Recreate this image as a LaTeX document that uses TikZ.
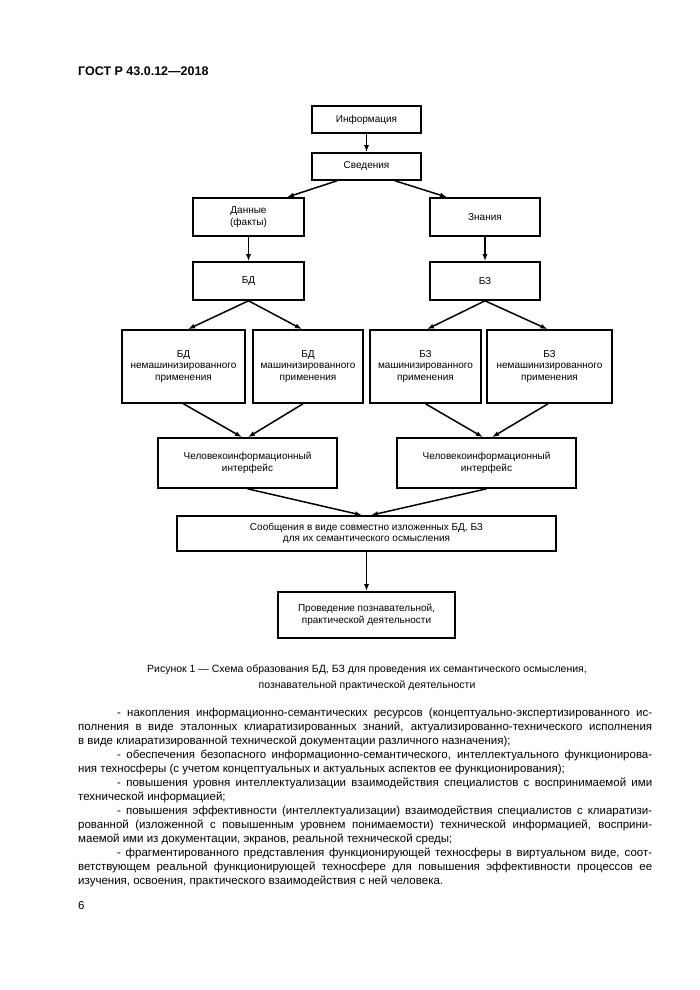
\documentclass[tikz,border=0pt]{standalone}
\usepackage{fontspec}
\setmainfont{Liberation Sans}
\usetikzlibrary{arrows.meta,calc}
\begin{document}
\begin{tikzpicture}[x=1pt,y=-1pt,
  box/.style={draw, line width=1.6pt, inner sep=0pt, align=center, font=\fontsize{10}{11.5}\selectfont},
  arr/.style={line width=1.5pt, -{Latex[length=7pt,width=5pt]}},
  bodyline/.style={anchor=base west, inner sep=0pt, font=\fontsize{11.5}{14}\selectfont},
  capline/.style={anchor=base, inner sep=0pt, font=\fontsize{10.5}{13}\selectfont}]
\useasboundingbox[fill=white] (0,0) rectangle (700,990);

% header
\node[anchor=base west, inner sep=0pt, font=\fontsize{12.5}{14}\selectfont\bfseries] (hdr) at (78,75) {ГОСТ Р 43.0.12—2018};

% boxes
\node[box, minimum width=109pt, minimum height=27pt] (info) at (366.5,119.5) {Информация};
\node[box, minimum width=109pt, minimum height=27pt] (sved) at (366.5,166.5) {Сведения};
\node[box, minimum width=111pt, minimum height=38pt] (dan) at (248.5,217) {Данные\\(факты)};
\node[box, minimum width=110pt, minimum height=38pt] (zn) at (485,217) {Знания};
\node[box, minimum width=111pt, minimum height=38pt] (bd) at (248.5,281) {БД};
\node[box, minimum width=110pt, minimum height=38pt] (bz) at (485,281) {БЗ};
\node[box, minimum width=123pt, minimum height=73pt] (r1) at (183.5,366.5) {БД\\немашинизированного\\применения};
\node[box, minimum width=110pt, minimum height=73pt] (r2) at (308,366.5) {БД\\машинизированного\\применения};
\node[box, minimum width=111pt, minimum height=73pt] (r3) at (425.5,366.5) {БЗ\\машинизированного\\применения};
\node[box, minimum width=125pt, minimum height=73pt] (r4) at (549.5,366.5) {БЗ\\немашинизированного\\применения};
\node[box, minimum width=179pt, minimum height=50pt] (if1) at (247.5,463) {Человекоинформационный\\интерфейс};
\node[box, minimum width=179pt, minimum height=50pt] (if2) at (486.5,463) {Человекоинформационный\\интерфейс};
\node[box, minimum width=379pt, minimum height=35pt] (msg) at (366.5,533.5) {Сообщения в виде совместно изложенных БД, БЗ\\для их семантического осмысления};
\node[box, minimum width=177pt, minimum height=46pt] (act) at (366.5,615) {Проведение познавательной,\\практической деятельности};

% connectors
\draw[arr] (info.south) -- (sved.north);
\draw[arr] ($(sved.south)+(-29.5,0)$) -- ($(dan.north)+(38.5,0)$);
\draw[arr] ($(sved.south)+(28.5,0)$) -- ($(zn.north)+(-38,0)$);
\draw[arr] (dan.south) -- (bd.north);
\draw[arr] (zn.south) -- (bz.north);
\draw[arr] (bd.south) -- ($(r1.north)+(4.5,0)$);
\draw[arr] (bd.south) -- ($(r2.north)+(-6,0)$);
\draw[arr] (bz.south) -- ($(r3.north)+(1.5,0)$);
\draw[arr] (bz.south) -- ($(r4.north)+(-2,0)$);
\draw[arr] (r1.south) -- ($(if1.north)+(-5.5,0)$);
\draw[arr] ($(r2.south)+(-5,0)$) -- ($(if1.north)+(0.5,0)$);
\draw[arr] (r3.south) -- ($(if2.north)+(-3.5,0)$);
\draw[arr] ($(r4.south)+(-1.5,0)$) -- ($(if2.north)+(5.5,0)$);
\draw[arr] (if1.south) -- ($(msg.north)+(-4.5,0)$);
\draw[arr] (if2.south) -- ($(msg.north)+(4.5,0)$);
\draw[arr] (msg.south) -- (act.north);

% caption
\node[capline] (cap1) at (367,672) {Рисунок 1 — Схема образования БД, БЗ для проведения их семантического осмысления,};
\node[capline] (cap2) at (367,688) {познавательной практической деятельности};

% body text
\node[bodyline] (l1) at (117,716) {\hbox to 535pt{- накопления информационно-семантических ресурсов (концептуально-экспертизированного ис-}};
\node[bodyline] (l2) at (78,730) {\hbox to 574pt{полнения в виде эталонных клиаратизированных знаний, актуализированно-технического исполнения}};
\node[bodyline] (l3) at (78,744) {в виде клиаратизированной технической документации различного назначения);};
\node[bodyline] (l4) at (117,758) {\hbox to 535pt{- обеспечения безопасного информационно-семантического, интеллектуального функционирова-}};
\node[bodyline] (l5) at (78,772) {ния техносферы (с учетом концептуальных и актуальных аспектов ее функционирования);};
\node[bodyline] (l6) at (117,786) {\hbox to 535pt{- повышения уровня интеллектуализации взаимодействия специалистов с воспринимаемой ими}};
\node[bodyline] (l7) at (78,800) {технической информацией;};
\node[bodyline] (l8) at (117,814) {\hbox to 535pt{- повышения эффективности (интеллектуализации) взаимодействия специалистов с клиаратизи-}};
\node[bodyline] (l9) at (78,828) {\hbox to 574pt{рованной (изложенной с повышенным уровнем понимаемости) технической информацией, восприни-}};
\node[bodyline] (l10) at (78,842) {маемой ими из документации, экранов, реальной технической среды;};
\node[bodyline] (l11) at (117,856) {\hbox to 535pt{- фрагментированного представления функционирующей техносферы в виртуальном виде, соот-}};
\node[bodyline] (l12) at (78,870) {\hbox to 574pt{ветствующем реальной функционирующей техносфере для повышения эффективности процессов ее}};
\node[bodyline] (l13) at (78,884) {изучения, освоения, практического взаимодействия с ней человека.};

% page number
\node[bodyline] (pg) at (78,909) {6};
\end{tikzpicture}
\end{document}
